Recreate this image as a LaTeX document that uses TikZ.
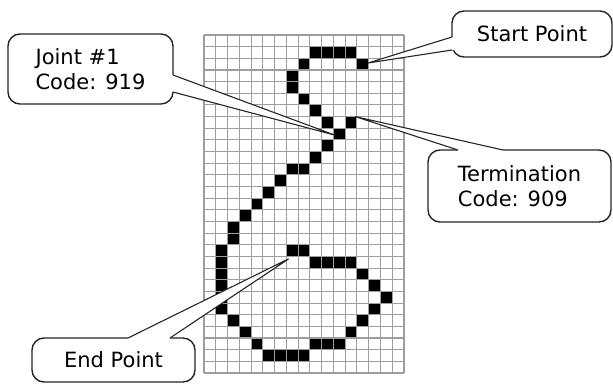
\documentclass[tikz,border=0pt]{standalone}
\usepackage{fontspec}
\setmainfont{DejaVu Sans}
\usetikzlibrary{calc}
\usepackage{tikz}

\begin{document}
\begin{tikzpicture}[x=1pt,y=-1pt,
      grid style/.style={draw=black!38,line width=1.1pt},
      pixel style/.style={fill=black},
      callout style/.style={draw=black!85,line width=1.4pt,fill=white,
        rounded corners=12pt,align=left,inner sep=0pt,outer sep=0pt,
        font=\fontsize{21}{24.5}\selectfont},
      pointer style/.style={draw=black!85,line width=1.1pt,line join=miter}
      ]
      \useasboundingbox[fill=white] (0,0) rectangle (613,383);
      % pixel grid, 17 x 29 cells
      \begin{scope}[shift={(204,35)},x=11.765pt,y=-11.655pt]
        \foreach \r/\cols in {1/{9,10,11,12},2/{8,13},3/{7},4/{7},5/{8},6/{9},
          7/{10,12},8/{11},9/{10},10/{9},11/{7,8},12/{6},13/{5},14/{4},
          15/{3},16/{2},17/{2},18/{1,7,8},19/{1,9,10,11,12},20/{1,13},
          21/{1,14},22/{1,15},23/{1,14},24/{2,13},25/{3,12},26/{4,9,10,11},
          27/{5,6,7,8}}
          \foreach \c in \cols
            \fill[pixel style] (\c,\r) rectangle ++(1,1);
        \foreach \i in {0,...,17}
          \draw[grid style] (\i,0) -- (\i,29);
        \foreach \j in {0,...,29}
          \draw[grid style] (0,\j) -- (17,\j);
        \coordinate (start tip) at (13.95,2.4);
        \coordinate (joint tip) at (11.15,8.6);
        \coordinate (term tip) at (12.85,7.0);
        \coordinate (end tip) at (7.2,19.2);
      \end{scope}
      % callouts
      \node[callout style,minimum width=165pt,minimum height=70pt] (joint)
        at (90.5,69) {Joint \#1\\Code: 919};
      \coordinate (j1) at ($(joint.east)+(0,6)$);
      \coordinate (j2) at ($(joint.east)+(0,23)$);
      \fill[white] (j1) -- (joint tip) -- (j2) -- ++(-3,0) -- ($(j1)+(-3,0)$) -- cycle;
      \draw[pointer style] (j1) -- (joint tip) -- (j2);

      \node[callout style,minimum width=160pt,minimum height=46pt] (start)
        at (532,34) {Start Point};
      \coordinate (s1) at ($(start.west)+(0,3)$);
      \coordinate (s2) at ($(start.west)+(0,16)$);
      \fill[white] (s1) -- (start tip) -- (s2) -- ++(3,0) -- ($(s1)+(3,0)$) -- cycle;
      \draw[pointer style] (s1) -- (start tip) -- (s2);

      \node[callout style,minimum width=183pt,minimum height=72pt] (term)
        at (519.5,186) {Termination\\Code: 909};
      \coordinate (t1) at ($(term.north)+(-61.5,0)$);
      \coordinate (t2) at ($(term.north)+(-16.5,0)$);
      \fill[white] (t1) -- (term tip) -- (t2) -- ++(0,3) -- ($(t1)+(0,3)$) -- cycle;
      \draw[pointer style] (t1) -- (term tip) -- (t2);

      \node[callout style,minimum width=163pt,minimum height=44pt] (endpt)
        at (113.5,360) {End Point};
      \coordinate (e1) at ($(endpt.north)+(14.5,0)$);
      \coordinate (e2) at ($(endpt.north)+(56.5,0)$);
      \fill[white] (e1) -- (end tip) -- (e2) -- ++(0,3) -- ($(e1)+(0,3)$) -- cycle;
      \draw[pointer style] (e1) -- (end tip) -- (e2);
    \end{tikzpicture}
\end{document}
